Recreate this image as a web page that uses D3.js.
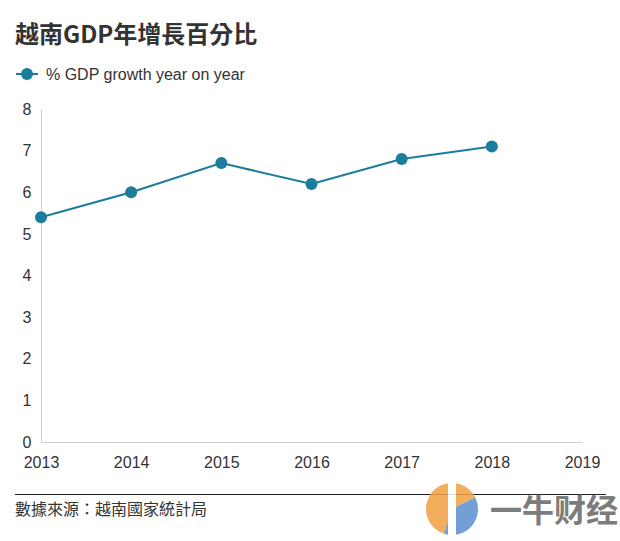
<!DOCTYPE html>
<html><head><meta charset="utf-8">
<script src="https://cdn.jsdelivr.net/npm/d3@7"></script>
<style>body{margin:0;background:#fff;}svg{display:block;font-family:Arial,"Liberation Sans","Noto Sans CJK TC",sans-serif;}</style>
</head><body>
<script>
const years = [2013, 2014, 2015, 2016, 2017, 2018];
const growth = [5.4, 6.0, 6.7, 6.2, 6.8, 7.1];
const xTicks = [2013, 2014, 2015, 2016, 2017, 2018, 2019];
const yTicks = [0, 1, 2, 3, 4, 5, 6, 7, 8];
const title = "越南GDP年增長百分比";
const legendLabel = "% GDP growth year on year";
const source = "數據來源：越南國家統計局";

const W = 620, H = 541;
const svg = d3.select("body").append("svg").attr("width", W).attr("height", H);
const color = "#1a7d9c";

const x = d3.scaleLinear().domain([2013, 2019]).range([41, 582]);
const y = d3.scaleLinear().domain([0, 8]).range([442, 109]);

svg.append("text").attr("x", 15).attr("y", 43).attr("font-size", 24).attr("font-weight", "bold")
  .attr("fill", "#333").attr("font-family", "'Noto Sans CJK TC', sans-serif").text(title);

// legend
const lg = svg.append("g");
lg.append("line").attr("x1", 16).attr("x2", 38).attr("y1", 74).attr("y2", 74).attr("stroke", color).attr("stroke-width", 2);
lg.append("circle").attr("cx", 27).attr("cy", 74).attr("r", 6).attr("fill", color);
lg.append("text").attr("x", 46).attr("y", 80).attr("font-size", 16).attr("fill", "#333").text(legendLabel);

// axes
const gx = svg.append("g").attr("transform", `translate(0,${y(0)})`)
  .call(d3.axisBottom(x).tickValues(xTicks).tickFormat(d3.format("d")).tickSize(0).tickPadding(15));
gx.select(".domain").attr("stroke", "#ccc");
gx.selectAll("text").attr("font-size", 16).attr("fill", "#333").attr("font-family", "Arial, 'Liberation Sans', sans-serif");

const gy = svg.append("g").attr("transform", `translate(${x(2013)},0)`)
  .call(d3.axisLeft(y).tickValues(yTicks).tickSize(0).tickPadding(10));
gy.select(".domain").attr("stroke", "#ccc");
gy.selectAll("text").attr("font-size", 16).attr("fill", "#333").attr("text-anchor", "middle").attr("x", -14)
  .attr("font-family", "Arial, 'Liberation Sans', sans-serif");

// line
const data = years.map((yr, i) => ({yr, v: growth[i]}));
svg.append("path").datum(data).attr("fill", "none").attr("stroke", color).attr("stroke-width", 2)
  .attr("d", d3.line().x(d => x(d.yr)).y(d => y(d.v)));
svg.selectAll("circle.pt").data(data).enter().append("circle").attr("class", "pt")
  .attr("cx", d => x(d.yr)).attr("cy", d => y(d.v)).attr("r", 6).attr("fill", color);

// source
svg.append("line").attr("x1", 15).attr("x2", 606).attr("y1", 494.5).attr("y2", 494.5).attr("stroke", "#222").attr("stroke-width", 1);
svg.append("text").attr("x", 15).attr("y", 515).attr("font-size", 16).attr("fill", "#333")
  .attr("font-family", "'Noto Sans CJK TC', sans-serif").text(source);

// watermark approximation
const wm = svg.append("g").attr("opacity", 0.85);
wm.append("path").attr("d", d3.arc()({innerRadius: 0, outerRadius: 26, startAngle: -Math.PI*0.9, endAngle: Math.PI*0.35}))
  .attr("transform", "translate(452,509)").attr("fill", "#f0a040");
wm.append("path").attr("d", d3.arc()({innerRadius: 0, outerRadius: 26, startAngle: Math.PI*0.35, endAngle: Math.PI*1.1}))
  .attr("transform", "translate(452,509)").attr("fill", "#5b8fd0");
wm.append("rect").attr("x", 448).attr("y", 482).attr("width", 8).attr("height", 54).attr("fill", "#fff");
wm.append("text").attr("x", 490).attr("y", 522).attr("font-size", 32).attr("font-weight", "bold").attr("fill", "#666")
  .attr("font-family", "'Noto Sans CJK SC', sans-serif").text("一牛财经");
</script>
</body></html>
